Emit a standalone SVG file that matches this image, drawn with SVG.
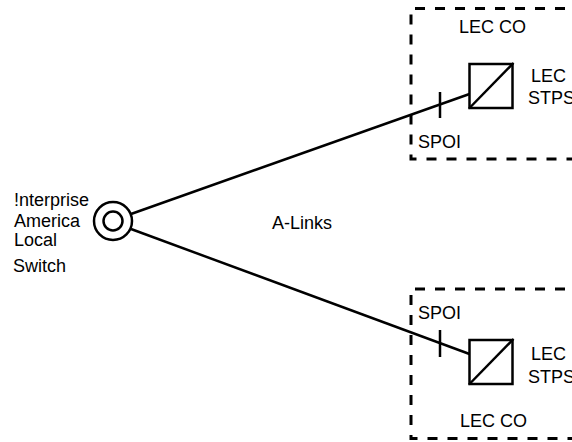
<svg xmlns="http://www.w3.org/2000/svg" width="572" height="442" viewBox="0 0 572 442">
<style>
text{font-family:"Liberation Sans",Arial,sans-serif;font-size:18px;fill:#000}
.box{fill:none;stroke:#000;stroke-width:3;stroke-dasharray:10 10}
.ln{fill:none;stroke:#000;stroke-width:2.5}
</style>
<rect width="572" height="442" fill="#fff"/>
<g id="lec-co-top">
<path class="box" d="M585,8.5 H411 V159 H585"/>
<text x="459" y="33">LEC CO</text>
</g>
<g id="lec-co-bottom">
<path class="box" d="M585,289 H411 V438.5 H585"/>
<text x="460" y="427">LEC CO</text>
</g>
<g id="switch">
<circle class="ln" cx="113" cy="221" r="19"/>
<circle class="ln" cx="113" cy="221" r="9.5"/>
<text x="14" y="206">!nterprise</text>
<text x="14" y="227">America</text>
<text x="14" y="246">Local</text>
<text x="13" y="272">Switch</text>
</g>
<g id="stp-top">
<rect class="ln" x="469.5" y="64" width="43" height="44"/>
<line class="ln" x1="469" y1="108.5" x2="513.5" y2="63"/>
<text x="531" y="82">LEC</text>
<text x="528" y="104">STPS</text>
</g>
<g id="stp-bottom">
<rect class="ln" x="469.5" y="340" width="43" height="44"/>
<line class="ln" x1="469" y1="384.5" x2="513.5" y2="339"/>
<text x="531" y="360">LEC</text>
<text x="528" y="383">STPS</text>
</g>
<g id="connectors">
<line class="ln" x1="131" y1="214" x2="469.5" y2="94"/>
<line class="ln" x1="131" y1="229" x2="469.5" y2="354"/>
<line class="ln" x1="440" y1="92" x2="440" y2="118"/>
<line class="ln" x1="440" y1="330" x2="440" y2="357"/>
<text x="418" y="148">SPOI</text>
<text x="418" y="319">SPOI</text>
<text x="272" y="229">A-Links</text>
</g>
</svg>
